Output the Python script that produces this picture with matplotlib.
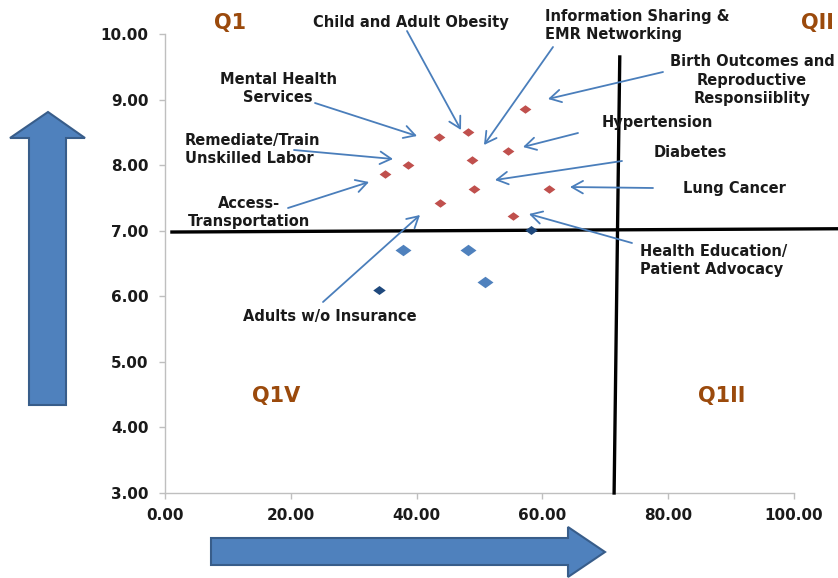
import numpy as np
import matplotlib
matplotlib.use('Agg')
import matplotlib.pyplot as plt
from matplotlib.patches import Polygon, FancyArrowPatch

# scatter values
red_x = [57.3, 48.2, 43.6, 54.6, 48.8, 38.6, 34.9, 49.1, 61.0, 43.7, 55.3]
red_y = [8.86, 8.50, 8.43, 8.22, 8.08, 8.00, 7.86, 7.64, 7.64, 7.43, 7.22]
blue_x = [37.8, 48.1, 50.9]
blue_y = [6.71, 6.71, 6.22]
dark_x = [58.2, 34.1]
dark_y = [7.01, 6.09]

x_ticks = [0, 20, 40, 60, 80, 100]
y_ticks = [3, 4, 5, 6, 7, 8, 9, 10]

# callout labels: text, text position (px from top-left), alignment, arrow start, arrow tip
callouts = [
    ('Child and Adult Obesity', (411, 22), 'center', (407, 31), (461, 130)),
    ('Information Sharing &\nEMR Networking', (545, 26), 'left', (553, 47), (484, 145)),
    ('Birth Outcomes and\nReproductive\nResponsiiblity', (752, 80), 'center', (663, 72), (548, 99)),
    ('Hypertension', (657, 123), 'center', (578, 133), (523, 147)),
    ('Diabetes', (690, 153), 'center', (622, 161), (495, 180)),
    ('Lung Cancer', (734, 188), 'center', (653, 188), (570, 187)),
    ('Health Education/\nPatient Advocacy', (640, 261), 'left', (632, 243), (529, 214)),
    ('Adults w/o Insurance', (330, 317), 'center', (323, 302), (420, 215)),
    ('Access-\nTransportation', (249, 212), 'center', (288, 208), (369, 182)),
    ('Remediate/Train\nUnskilled Labor', (185, 149), 'left', (294, 150), (393, 159)),
    ('Mental Health\nServices', (278, 88), 'center', (315, 103), (417, 136)),
]

quadrants = [('Q1', (230, 23)), ('QII', (817, 23)), ('Q1V', (276, 396)), ('Q1II', (722, 396))]

W, H = 838, 578


def fp(x, y):
    # pixel (top-left origin) -> figure fraction
    return (x / W, 1 - y / H)


fig = plt.figure(figsize=(8.38, 5.78), dpi=100)
ax = fig.add_axes([165 / W, 1 - 493 / H, (794 - 165) / W, (493 - 34) / H])

diamond = [(-1, 0), (0, 0.72), (1, 0), (0, -0.72), (-1, 0)]
ax.plot(red_x, red_y, ls='none', marker=diamond, ms=8.5, color='#C0504D', mec='none', zorder=4)
ax.plot(blue_x, blue_y, ls='none', marker=diamond, ms=11.5, color='#4F81BD', mec='none', zorder=4)
ax.plot(dark_x, dark_y, ls='none', marker=diamond, ms=9, color='#1F497D', mec='none', zorder=4)

ax.set_xlim(0, 100)
ax.set_ylim(3, 10)
ax.set_xticks(x_ticks)
ax.set_yticks(y_ticks)
ax.xaxis.set_major_formatter(plt.FormatStrFormatter('%.2f'))
ax.yaxis.set_major_formatter(plt.FormatStrFormatter('%.2f'))
for s in ['top', 'right']:
    ax.spines[s].set_visible(False)
for s in ['left', 'bottom']:
    ax.spines[s].set_color('#BFBFBF')
    ax.spines[s].set_linewidth(1)
ax.tick_params(direction='out', length=4, width=1, color='#BFBFBF', labelcolor='#1a1a1a')
ax.tick_params(axis='y', pad=8)
ax.tick_params(axis='x', pad=7)
for lab in ax.get_xticklabels() + ax.get_yticklabels():
    lab.set_fontfamily('DejaVu Sans')
    lab.set_fontweight('bold')
    lab.set_fontsize(11)

# quadrant divider lines (hand drawn in the original, run past the axes)
ax.plot([1.1, 107], [6.98, 7.03], color='black', lw=2.4, clip_on=False, zorder=3)
ax.plot([72.3, 71.4], [9.65, 3.0], color='black', lw=2.4, clip_on=False, zorder=3)

for txt, pos, ha, start, tip in callouts:
    fig.text(*fp(*pos), txt, ha=ha, va='center', fontsize=10.5, fontweight='bold',
             family='DejaVu Sans', color='#1a1a1a', linespacing=1.25)
    arr = FancyArrowPatch(fp(*start), fp(*tip), transform=fig.transFigure,
                          arrowstyle='->,head_length=8,head_width=4.5', color='#4A7EBB',
                          lw=1.3, shrinkA=0, shrinkB=0, zorder=5)
    fig.patches.append(arr)

for q, pos in quadrants:
    fig.text(*fp(*pos), q, ha='center', va='center', fontsize=15, fontweight='bold',
             family='DejaVu Sans', color='#9B4A0C')

# big block arrows
up = [(29, 405), (66, 405), (66, 138), (85, 138), (48, 112), (10, 138), (29, 138)]
right = [(211, 538), (568, 538), (568, 527), (605, 552), (568, 577), (568, 565), (211, 565)]
for pts in (up, right):
    fig.patches.append(Polygon([fp(*p) for p in pts], closed=True, transform=fig.transFigure,
                               facecolor='#4F81BD', edgecolor='#385D8A', lw=1.5))

fig.savefig('out.png', dpi=100)
